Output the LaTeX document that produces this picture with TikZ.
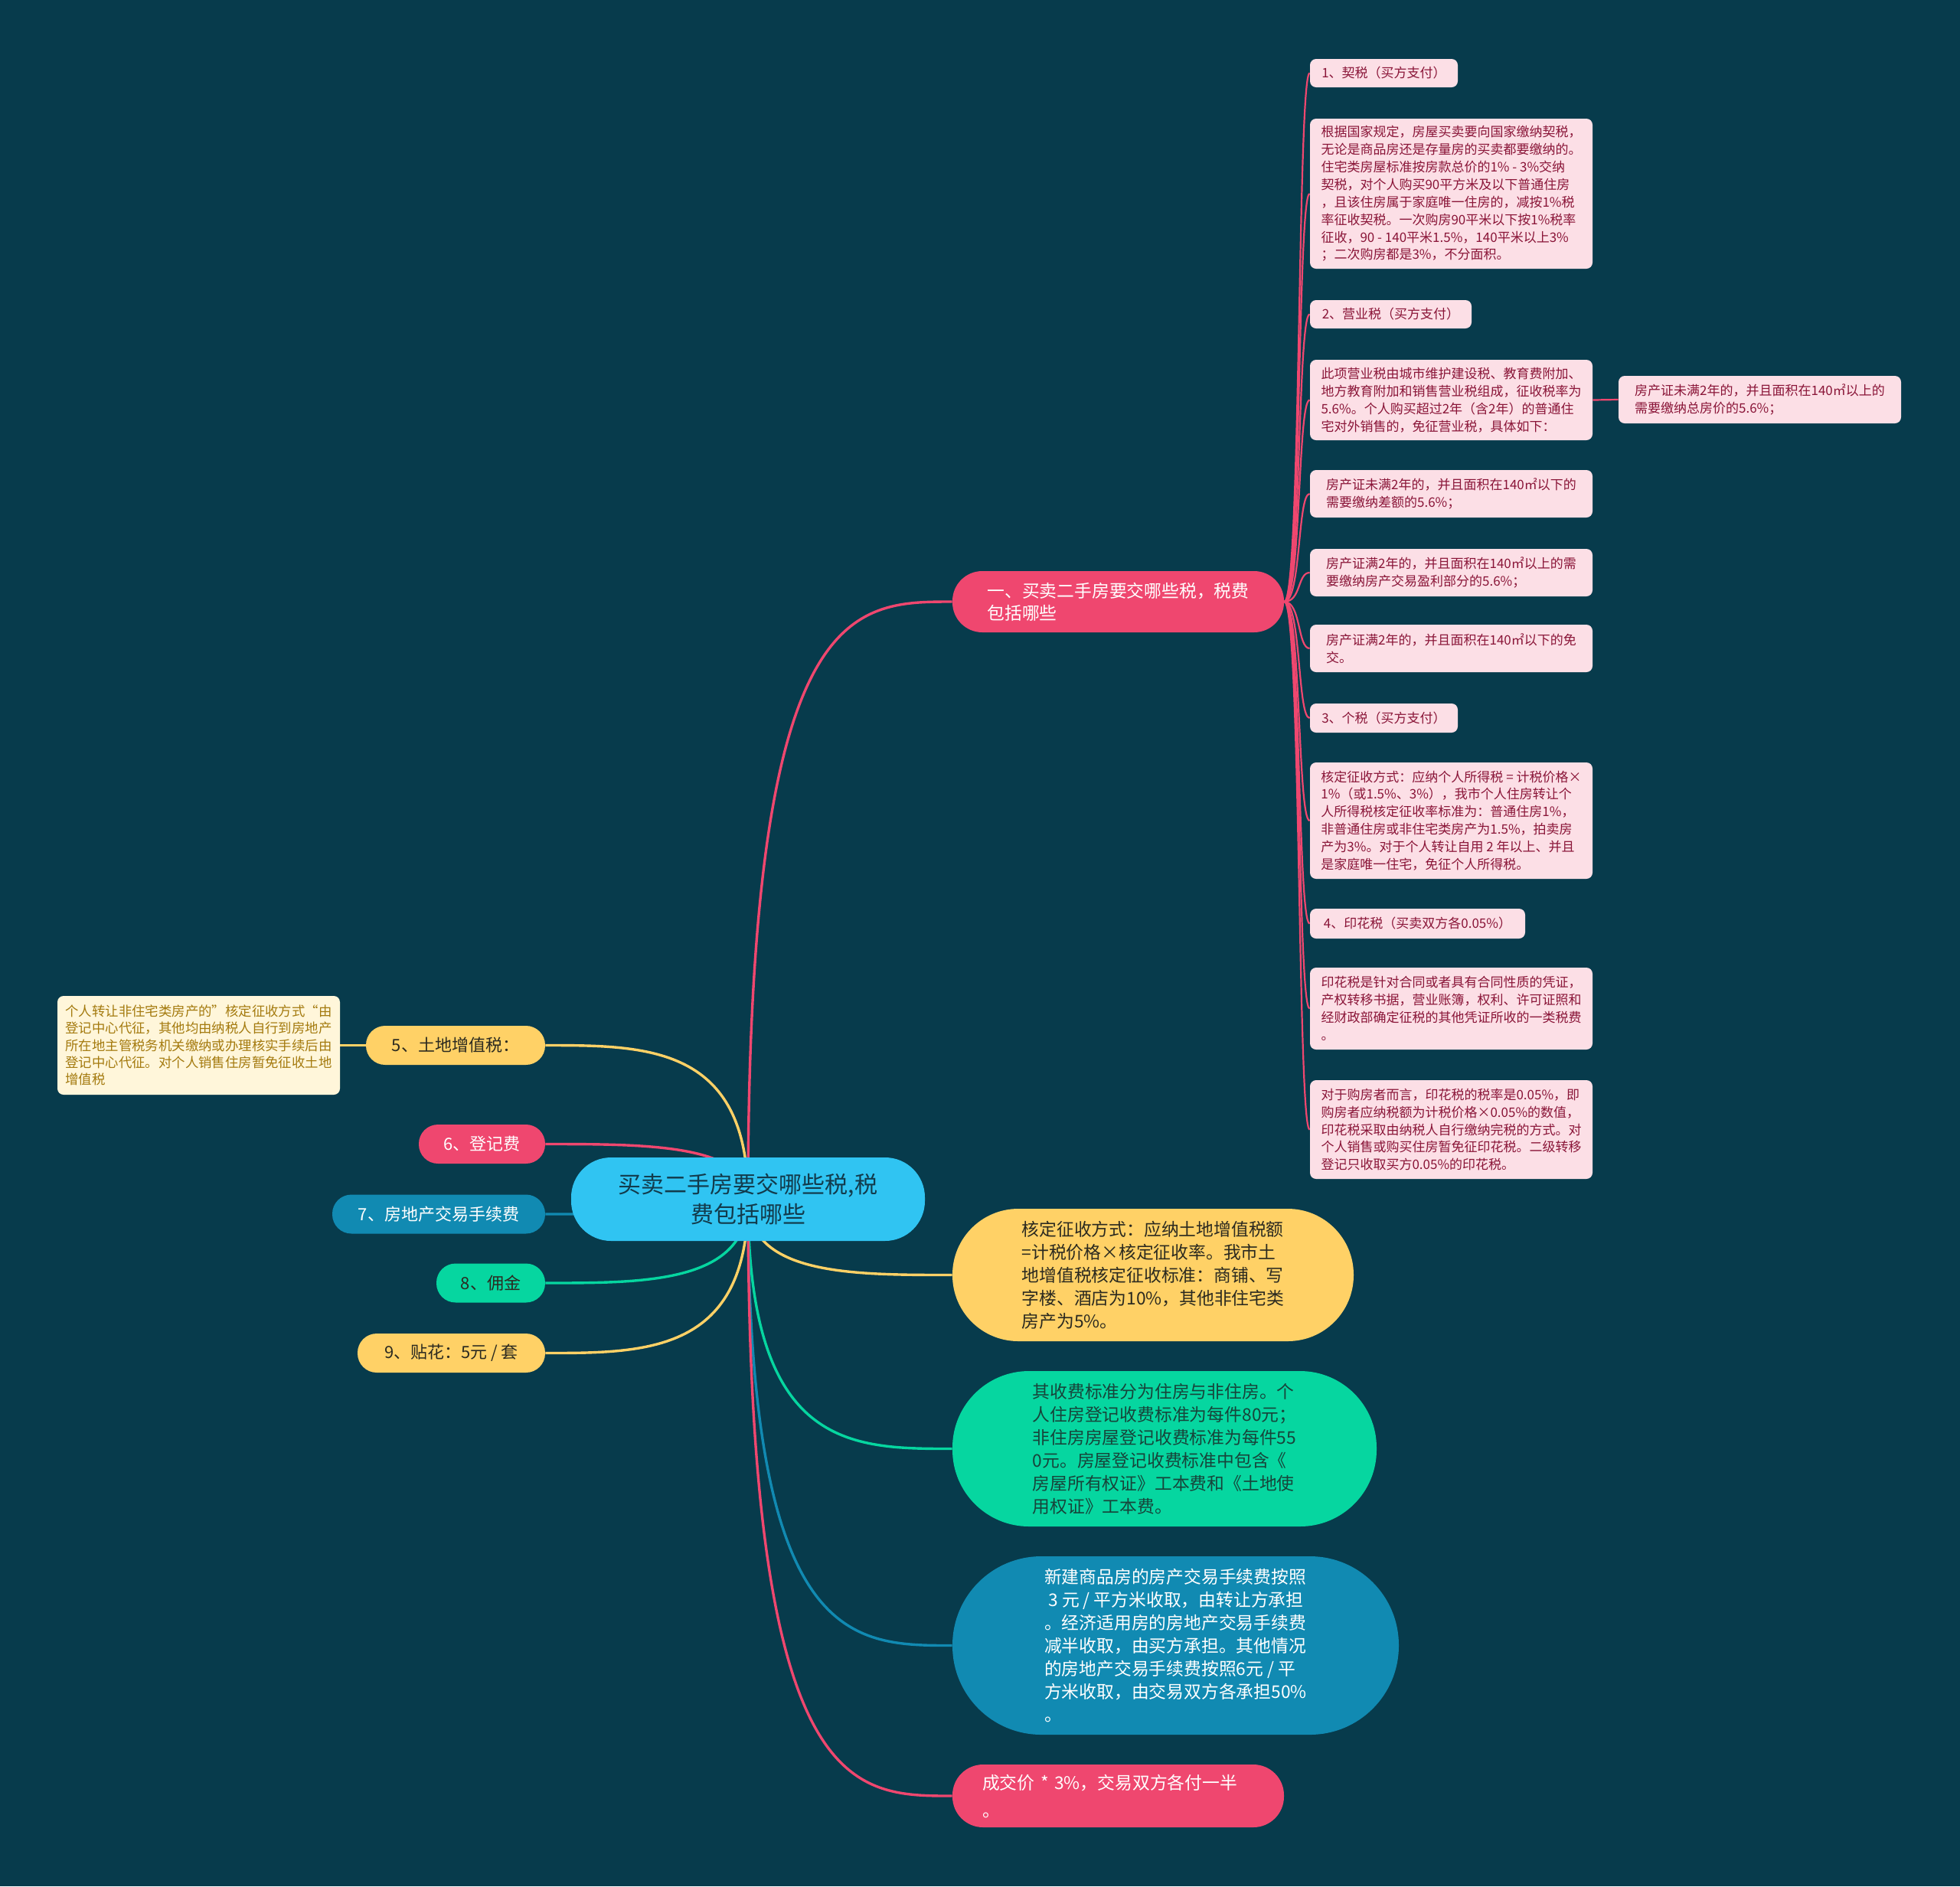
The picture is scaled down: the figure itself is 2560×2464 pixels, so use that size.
\documentclass[tikz,border=0pt]{standalone}
\usepackage{fontspec}
\setmainfont{Noto Sans CJK SC}
\usetikzlibrary{calc}
\definecolor{bgc}{HTML}{073B4C}
\definecolor{pinkc}{HTML}{EF476F}
\definecolor{yellowc}{HTML}{FFD166}
\definecolor{greenc}{HTML}{06D6A0}
\definecolor{bluec}{HTML}{118AB2}
\definecolor{rootc}{HTML}{30C4F2}
\definecolor{roottxt}{HTML}{123B4C}
\definecolor{leafc}{HTML}{FCDFE6}
\definecolor{leaftxt}{HTML}{8A1538}
\definecolor{creamc}{HTML}{FFF6DA}
\definecolor{creamtxt}{HTML}{A47A0E}
\definecolor{darktxt}{HTML}{2B2A20}
\definecolor{greentxt}{HTML}{17443A}
\pgfdeclarelayer{bg}
\pgfdeclarelayer{lines}
\pgfsetlayers{bg,lines,main}
\tikzset{
  conn/.style={line width=1.7pt},
  leafline/.style={line width=1.1pt, draw=pinkc},
  leaf/.style={fill=leafc, text=leaftxt, rounded corners=4pt, align=left, inner sep=0pt,
    font=\fontsize{8.5pt}{11.45pt}\selectfont},
  wideleaf/.style={leaf, minimum width=184.5pt},
  lvl/.style={rounded corners=12.5pt, minimum height=25.5pt, inner sep=0pt,
    font=\fontsize{11pt}{14pt}\selectfont},
  big/.style={align=left, inner sep=0pt, font=\fontsize{11.4pt}{15pt}\selectfont}
}
\begin{document}
\begin{tikzpicture}[x=0.5pt,y=-0.5pt]
\useasboundingbox (0,0) rectangle (2560,2464);
\begin{pgfonlayer}{bg}
\fill[bgc] (0,0) rectangle (2560,2464);
\end{pgfonlayer}

% root
\node[fill=rootc, text=roottxt, rounded corners=26pt, minimum width=231pt, minimum height=54.5pt,
  align=center, inner sep=0pt, font=\fontsize{15pt}{19.5pt}\selectfont] (root) at (977,1566.5)
  {买卖二手房要交哪些税,税\\费包括哪些};

% branch 1
\node[fill=pinkc, text=white, rounded corners=19.5pt, minimum width=216.5pt, minimum height=40pt,
  align=left, inner sep=0pt, font=\fontsize{11.4pt}{14.7pt}\selectfont] (b1) at (1460.5,786)
  {一、买卖二手房要交哪些税，税费\\包括哪些};

% leaves of branch 1
\node[leaf, minimum width=96.5pt, minimum height=18.5pt] (l1) at (1807.5,95.5) {1、契税（买方支付）};
\node[wideleaf, minimum height=98pt] (l2) at (1895.5,253)
  {根据国家规定，房屋买卖要向国家缴纳契税，\\无论是商品房还是存量房的买卖都要缴纳的。\\住宅类房屋标准按房款总价的1\% - 3\%交纳\\契税，对个人购买90平方米及以下普通住房\\，且该住房属于家庭唯一住房的，减按1\%税\\率征收契税。一次购房90平米以下按1\%税率\\征收，90 - 140平米1.5\%，140平米以上3\%\\；二次购房都是3\%，不分面积。};
\node[leaf, minimum width=105.5pt, minimum height=18.5pt] (l3) at (1816.5,410.5) {2、营业税（买方支付）};
\node[wideleaf, minimum height=52.5pt] (l4) at (1895.5,522.5)
  {此项营业税由城市维护建设税、教育费附加、\\地方教育附加和销售营业税组成，征收税率为\\5.6\%。个人购买超过2年（含2年）的普通住\\宅对外销售的，免征营业税，具体如下：};
\node[wideleaf, minimum height=31pt] (l4s) at (2298.5,522)
  {房产证未满2年的，并且面积在140㎡以上的\\需要缴纳总房价的5.6\%；};
\node[wideleaf, minimum height=31pt] (l5) at (1895.5,645)
  {房产证未满2年的，并且面积在140㎡以下的\\需要缴纳差额的5.6\%；};
\node[wideleaf, minimum height=31pt] (l6) at (1895.5,748)
  {房产证满2年的，并且面积在140㎡以上的需\\要缴纳房产交易盈利部分的5.6\%；};
\node[wideleaf, minimum height=31pt] (l7) at (1895.5,847)
  {房产证满2年的，并且面积在140㎡以下的免\\交。};
\node[leaf, minimum width=96.5pt, minimum height=19pt] (l8) at (1807.5,938) {3、个税（买方支付）};
\node[wideleaf, minimum height=76pt] (l9) at (1895.5,1072)
  {核定征收方式：应纳个人所得税 = 计税价格×\\1\%（或1.5\%、3\%），我市个人住房转让个\\人所得税核定征收率标准为：普通住房1\%，\\非普通住房或非住宅类房产为1.5\%，拍卖房\\产为3\%。对于个人转让自用 2 年以上、并且\\是家庭唯一住宅，免征个人所得税。};
\node[leaf, minimum width=140.5pt, minimum height=19.5pt] (l10) at (1851.5,1206.5) {4、印花税（买卖双方各0.05\%）};
\node[wideleaf, minimum height=53.5pt] (l11) at (1895.5,1317.5)
  {印花税是针对合同或者具有合同性质的凭证，\\产权转移书据，营业账簿，权利、许可证照和\\经财政部确定征税的其他凭证所收的一类税费\\。};
\node[wideleaf, minimum height=64.5pt] (l12) at (1895.5,1475.5)
  {对于购房者而言，印花税的税率是0.05\%，即\\购房者应纳税额为计税价格×0.05\%的数值，\\印花税采取由纳税人自行缴纳完税的方式。对\\个人销售或购买住房暂免征印花税。二级转移\\登记只收取买方0.05\%的印花税。};

% left level-1 nodes
\node[lvl, fill=yellowc, text=darktxt, minimum width=117pt] (n5) at (595,1365.5) {5、土地增值税：};
\node[lvl, fill=pinkc, text=white, minimum width=82.5pt] (n6) at (629.5,1494.5) {6、登记费};
\node[lvl, fill=bluec, text=white, minimum width=139pt] (n7) at (573,1586) {7、房地产交易手续费};
\node[lvl, fill=greenc, text=darktxt, minimum width=71pt] (n8) at (641,1676) {8、佣金};
\node[lvl, fill=yellowc, text=darktxt, minimum width=122.5pt] (n9) at (589.5,1767.5) {9、贴花：5元 / 套};

% cream leaf
\node[fill=creamc, text=creamtxt, rounded corners=4pt, align=left, inner sep=0pt,
  minimum width=184.5pt, minimum height=64.5pt, font=\fontsize{8.7pt}{11.2pt}\selectfont] (c5) at (259.5,1365.5)
  {个人转让非住宅类房产的”核定征收方式“由\\登记中心代征，其他均由纳税人自行到房地产\\所在地主管税务机关缴纳或办理核实手续后由\\登记中心代征。对个人销售住房暂免征收土地\\增值税};

% right big nodes
\node[big, fill=yellowc, text=darktxt, rounded corners=43pt, minimum width=262pt, minimum height=86.5pt] (ry) at (1506,1665.5)
  {核定征收方式：应纳土地增值税额\\=计税价格×核定征收率。我市土\\地增值税核定征收标准：商铺、写\\字楼、酒店为10\%，其他非住宅类\\房产为5\%。};
\node[big, fill=greenc, text=greentxt, rounded corners=50pt, minimum width=277pt, minimum height=101.5pt] (rg) at (1521,1892.5)
  {其收费标准分为住房与非住房。个\\人住房登记收费标准为每件80元；\\非住房房屋登记收费标准为每件55\\0元。房屋登记收费标准中包含《\\房屋所有权证》工本费和《土地使\\用权证》工本费。};
\node[big, fill=bluec, text=white, rounded corners=58pt, minimum width=291.5pt, minimum height=116.5pt] (rb) at (1535.5,2149.5)
  {新建商品房的房产交易手续费按照\\\ 3 元 / 平方米收取，由转让方承担\\。经济适用房的房地产交易手续费\\减半收取，由买方承担。其他情况\\的房地产交易手续费按照6元 / 平\\方米收取，由交易双方各承担50\%\\。};
\node[fill=pinkc, text=white, rounded corners=20pt, minimum width=216.5pt, minimum height=41pt,
  align=left, inner xsep=19.5pt, inner ysep=0pt, text width=177.5pt, font=\fontsize{11.4pt}{18pt}\selectfont] (rp) at (1460.5,2346)
  {成交价 * 3\%，交易双方各付一半\\。};

% connectors
\begin{pgfonlayer}{lines}
\draw[conn, draw=pinkc] (root.center) .. controls (root.center |- b1.west) and ($(root.center |- b1.west)!0.5!(b1.west)$) .. (b1.west);
\draw[conn, draw=yellowc] (root.center) .. controls (root.center |- ry.west) and ($(root.center |- ry.west)!0.5!(ry.west)$) .. (ry.west);
\draw[conn, draw=greenc] (root.center) .. controls (root.center |- rg.west) and ($(root.center |- rg.west)!0.5!(rg.west)$) .. (rg.west);
\draw[conn, draw=bluec] (root.center) .. controls (root.center |- rb.west) and ($(root.center |- rb.west)!0.5!(rb.west)$) .. (rb.west);
\draw[conn, draw=pinkc] (root.center) .. controls (root.center |- rp.west) and ($(root.center |- rp.west)!0.5!(rp.west)$) .. (rp.west);
\draw[conn, draw=yellowc] (root.center) .. controls (root.center |- n5.east) and ($(root.center |- n5.east)!0.5!(n5.east)$) .. (n5.east);
\draw[conn, draw=pinkc] (root.center) .. controls (root.center |- n6.east) and ($(root.center |- n6.east)!0.5!(n6.east)$) .. (n6.east);
\draw[conn, draw=bluec] (root.center) .. controls (root.center |- n7.east) and ($(root.center |- n7.east)!0.5!(n7.east)$) .. (n7.east);
\draw[conn, draw=greenc] (root.center) .. controls (root.center |- n8.east) and ($(root.center |- n8.east)!0.5!(n8.east)$) .. (n8.east);
\draw[conn, draw=yellowc] (root.center) .. controls (root.center |- n9.east) and ($(root.center |- n9.east)!0.5!(n9.east)$) .. (n9.east);
\draw[conn, draw=yellowc] (n5.west) -- (c5.east);
\foreach \l in {l1,l2,l3,l4,l5,l6,l7,l8,l9,l10,l11,l12}{
  \draw[leafline] (b1.east) .. controls ($(b1.east)+(22,0)$) and ($(\l.west)+(-16,0)$) .. (\l.west);
}
\draw[leafline] (l4.east) -- (l4s.west);
\end{pgfonlayer}
\end{tikzpicture}
\end{document}
